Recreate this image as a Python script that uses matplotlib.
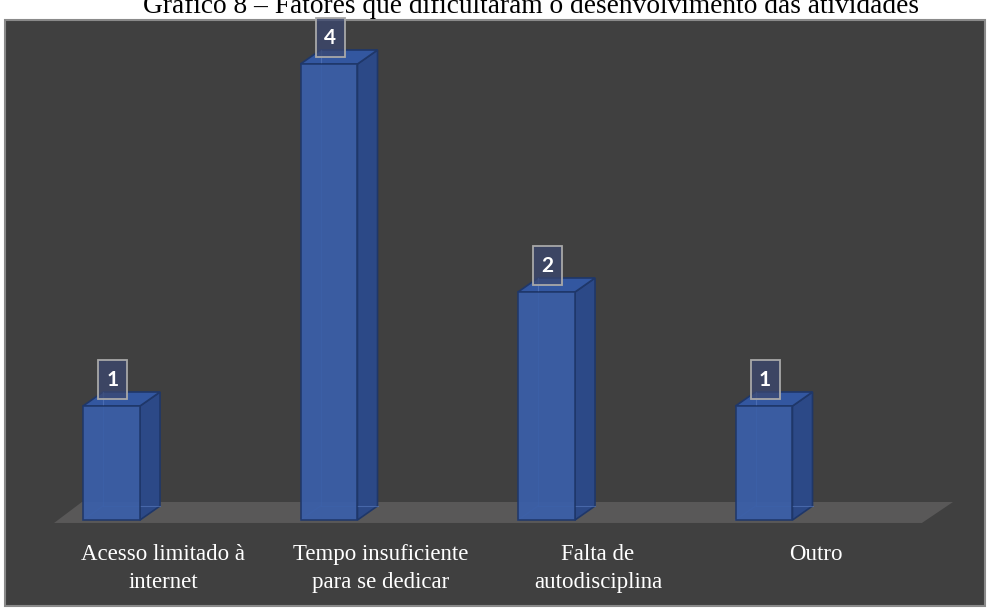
import numpy as np
import matplotlib
matplotlib.use('Agg')
import matplotlib.pyplot as plt
from matplotlib.patches import Rectangle, Polygon

# Data
categories = ['Acesso limitado à\ninternet', 'Tempo insuficiente\npara se dedicar',
              'Falta de\nautodisciplina', 'Outro']
values = [1, 4, 2, 1]
title = 'Gráfico 8 – Fatores que dificultaram o desenvolvimento das atividades'

# Styles
bg = '#404040'
floor_c = '#595858'
front_c = '#3a5fa9'
top_c = '#3357a0'
side_c = '#2c4987'
edge_c = '#1f3769'

W, H = 990, 608
fig = plt.figure(figsize=(W / 100, H / 100), dpi=100)
fig.patch.set_facecolor('white')

# Chart panel
fig.patches.append(Rectangle((5 / W, 2 / H), 980 / W, 586 / H, transform=fig.transFigure,
                             facecolor=bg, edgecolor='#8a8a8a', lw=1.5, zorder=-5))

ax = fig.add_axes([0, 0, 1, 1])
ax.patch.set_alpha(0)
ax.set_xlim(-111.5 / 217.5, (W - 111.5) / 217.5)
ax.set_ylim((520 - H) / 114, 520 / 114)
ax.axis('off')

x = np.arange(len(values))
bw = 0.262     # bar width
dx, dy = 0.092, 0.123   # depth offset

# floor
ax.add_patch(Polygon([(-0.264, -0.026), (-0.136, 0.158), (3.869, 0.158), (3.726, -0.026)],
                     closed=True, facecolor=floor_c, edgecolor='none', zorder=1))

for xi, v in zip(x, values):
    l, r = xi - bw / 2, xi + bw / 2
    # hidden back edges, seen through the bar
    ax.plot([l + dx, l + dx], [dy, v + dy], color='#5a7cc0', lw=0.8, alpha=0.6, zorder=4)
    ax.plot([l + dx, r + dx], [dy, dy], color='#5a7cc0', lw=0.8, alpha=0.6, zorder=4)
    ax.plot([l, l + dx], [0, dy], color='#5a7cc0', lw=0.8, alpha=0.6, zorder=4)
    # side
    ax.add_patch(Polygon([(r, 0), (r + dx, dy), (r + dx, v + dy), (r, v)], closed=True,
                         facecolor=side_c, edgecolor=edge_c, lw=1.2, zorder=3))
    # top
    ax.add_patch(Polygon([(l, v), (l + dx, v + dy), (r + dx, v + dy), (r, v)], closed=True,
                         facecolor=top_c, edgecolor=edge_c, lw=1.2, zorder=3))

ax.bar(x, values, width=bw, color=front_c, edgecolor=edge_c, lw=1.2, alpha=0.93, zorder=5)

# data labels in boxes
for xi, v in zip(x, values):
    bx0, by0 = xi + 0.005 - 0.0667, v + 0.061
    ax.add_patch(Rectangle((bx0, by0), 0.133, 0.342, facecolor='#3b4870', alpha=0.75,
                           edgecolor='none', zorder=6))
    ax.add_patch(Rectangle((bx0, by0), 0.133, 0.342, facecolor='none',
                           edgecolor='#a8a8a8', lw=1.3, zorder=7))
    ax.text(xi + 0.005, by0 + 0.171, str(v), color='white', fontsize=15,
            fontweight='bold', family='Lato', ha='center', va='center', zorder=8)

# category labels
for xi, c in zip(x, categories):
    ax.text(xi + 0.237, -0.21, c, color='white', fontsize=16.5, family='Liberation Serif',
            ha='center', va='top', linespacing=1.45, zorder=8)

fig.text(531 / W, 1 - 13 / H, title, fontsize=19.7, family='Liberation Serif',
         color='black', ha='center', va='baseline')

fig.savefig('out.png', dpi=100, facecolor='white')
